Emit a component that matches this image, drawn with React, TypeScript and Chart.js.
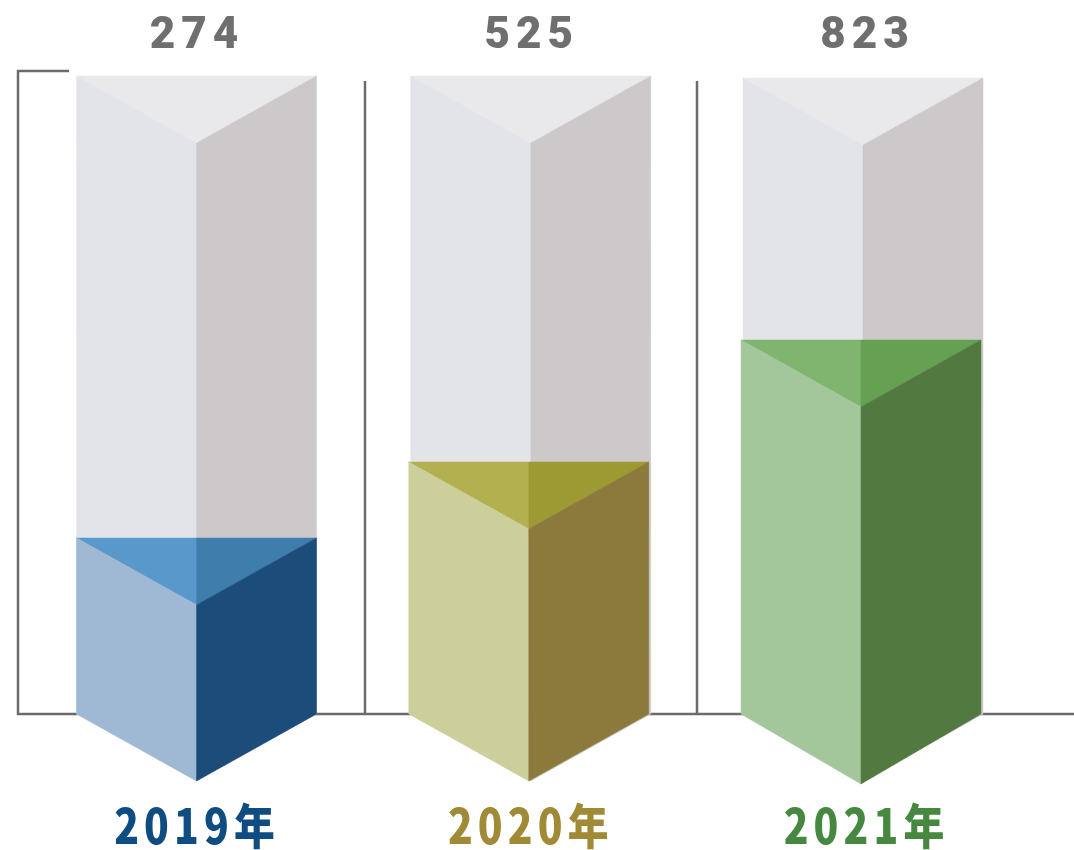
import React, { useEffect, useRef } from "react";
import { Chart, registerables } from "chart.js";

Chart.register(...registerables);

// ---- data ----
const years = ["2019年", "2020年", "2021年"];
const totals = [274, 525, 823];
// drawn height of the coloured column and of the pale column behind it (the picture's columns are not to scale with the totals)
const filledLevels = [176, 252, 374];
const trackLevels = [638, 638, 636];

// ---- styles ----
const yearColors = ["#0f4c81", "#a08a35", "#46883f"];
const TRACK = { left: "#e3e4ea", right: "#cdc9ca", topL: "#e9e9ec", topR: "#e9e9ec" };
const FILLS = [
  { left: "#9fb9d4", right: "#1c4c79", topL: "#5898cb", topR: "#3f7dac" },
  { left: "#cccf9b", right: "#8b7a3b", topL: "#b3b04f", topR: "#9e9a33" },
  { left: "#a4c69b", right: "#527a40", topL: "#7fb56f", topR: "#66a153" },
];
const TRACK_SHIFT = [0, 2, 2];
const VALUE_SHIFT = [0.5, 1, 4.5];
const YEAR_SHIFT = [0.5, 2, 5.5];
const BOTTOM_DEPTH = [67, 67, 70];
const DEPTH = 67;
const LINE = "#6b6b6b";

function poly(ctx: CanvasRenderingContext2D, pts: number[][], color: string) {
  ctx.beginPath();
  pts.forEach((p, i) => (i ? ctx.lineTo(p[0], p[1]) : ctx.moveTo(p[0], p[1])));
  ctx.closePath();
  ctx.fillStyle = color;
  ctx.fill();
  ctx.strokeStyle = color;
  ctx.lineWidth = 0.5;
  ctx.stroke();
}

function prism(ctx: CanvasRenderingContext2D, bar: any, shift: number, c: typeof TRACK, bottom: number) {
  const cx = bar.x + shift;
  const l = cx - bar.width / 2;
  const r = cx + bar.width / 2;
  const t = bar.y;
  const b = bar.base;
  poly(ctx, [[l, t], [cx, t], [cx, t + DEPTH]], c.topL);
  poly(ctx, [[cx, t], [r, t], [cx, t + DEPTH]], c.topR);
  poly(ctx, [[l, t], [cx, t + DEPTH], [cx, b + bottom], [l, b]], c.left);
  poly(ctx, [[r, t], [cx, t + DEPTH], [cx, b + bottom], [r, b]], c.right);
}

const prismPlugin = {
  id: "prism",
  beforeDatasetsDraw(chart: any) {
    const ctx = chart.ctx as CanvasRenderingContext2D;
    const base = chart.scales.y.getPixelForValue(0);
    ctx.save();
    ctx.strokeStyle = LINE;
    ctx.lineWidth = 2.5;
    ctx.beginPath();
    ctx.moveTo(69, 71);
    ctx.lineTo(18, 71);
    ctx.lineTo(18, base);
    ctx.lineTo(1074, base);
    ctx.moveTo(365, 81);
    ctx.lineTo(365, base);
    ctx.moveTo(697, 81);
    ctx.lineTo(697, base);
    ctx.stroke();
    ctx.restore();
  },
  afterDatasetsDraw(chart: any) {
    const ctx = chart.ctx as CanvasRenderingContext2D;
    const track = chart.getDatasetMeta(0).data;
    const fill = chart.getDatasetMeta(1).data;
    ctx.save();
    track.forEach((bar: any, i: number) => prism(ctx, bar, TRACK_SHIFT[i], TRACK, DEPTH));
    fill.forEach((bar: any, i: number) => prism(ctx, bar, 0, FILLS[i], BOTTOM_DEPTH[i]));

    ctx.fillStyle = "#6f6f6f";
    ctx.font = "900 44px Roboto";
    ctx.textAlign = "center";
    ctx.textBaseline = "alphabetic";
    (ctx as any).letterSpacing = "6px";
    track.forEach((bar: any, i: number) => {
      ctx.fillText(String(totals[i]), bar.x + TRACK_SHIFT[i] + VALUE_SHIFT[i], 48);
    });

    ctx.font = "900 48px 'Noto Sans CJK JP'";
    (ctx as any).letterSpacing = "6px";
    fill.forEach((bar: any, i: number) => {
      ctx.save();
      ctx.translate(bar.x + YEAR_SHIFT[i], 844);
      ctx.scale(0.85, 1);
      ctx.fillStyle = yearColors[i];
      ctx.fillText(years[i], 0, 0);
      ctx.restore();
    });
    (ctx as any).letterSpacing = "0px";
    ctx.restore();
  },
};

export default function App() {
  const ref = useRef<HTMLCanvasElement>(null);
  useEffect(() => {
    const chart = new Chart(ref.current as HTMLCanvasElement, {
      type: "bar",
      data: {
        labels: years,
        datasets: [
          { label: "track", data: trackLevels, backgroundColor: "rgba(0,0,0,0)", grouped: false, barPercentage: 0.7223, categoryPercentage: 1 },
          { label: "filled", data: filledLevels, backgroundColor: "rgba(0,0,0,0)", grouped: false, barPercentage: 0.7223, categoryPercentage: 1 },
        ],
      } as any,
      options: {
        animation: false,
        responsive: false,
        layout: { padding: { left: 30.4, right: 46.9, top: 76, bottom: 0 } },
        plugins: { legend: { display: false }, tooltip: { enabled: false } },
        scales: {
          x: {
            border: { display: false },
            grid: { display: false, drawTicks: false },
            afterFit(scale: any) {
              scale.height = 136;
            },
            ticks: { display: false },
          },
          y: { display: false, min: 0, max: 638 },
        },
      } as any,
      plugins: [prismPlugin],
    });
    return () => chart.destroy();
  }, []);
  return (
    <div style={{ position: "absolute", left: 0, top: 0, width: 1074, height: 850, background: "#fff" }}>
      <canvas ref={ref} width={1074} height={850} style={{ display: "block" }} />
    </div>
  );
}
